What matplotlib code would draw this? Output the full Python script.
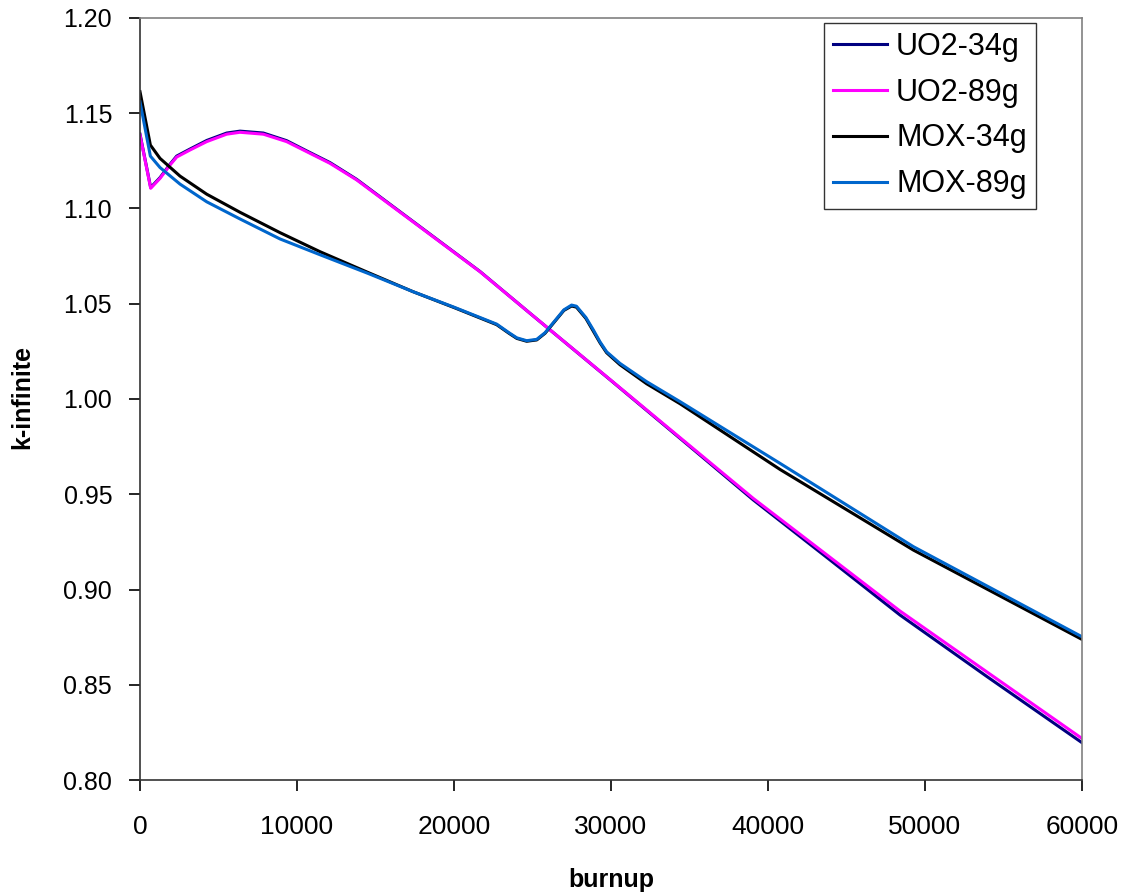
import numpy as np
import matplotlib
matplotlib.use('Agg')
import matplotlib.pyplot as plt

plt.rcParams['font.family'] = ['Liberation Sans', 'DejaVu Sans']

# values
uo2_burnup = [0, 680, 1274, 1911, 2336, 3185, 4250, 5520, 6370, 7857, 9340, 10600,
              12100, 13800, 17000, 21660, 24840, 30000, 35000, 39066, 44000, 48410,
              54000, 60000]
uo2_89g = [1.1386, 1.1106, 1.1158, 1.1228, 1.1270, 1.1307, 1.1351, 1.1390, 1.1400, 1.1390,
           1.1351, 1.1299, 1.1237, 1.1150, 1.0954, 1.0668, 1.0450, 1.0098, 0.9756, 0.9478,
           0.9166, 0.8887, 0.8564, 0.8218]
uo2_34g = [1.1390, 1.1110, 1.1162, 1.1232, 1.1275, 1.1312, 1.1357, 1.1396, 1.1406, 1.1396,
           1.1356, 1.1303, 1.1241, 1.1153, 1.0956, 1.0669, 1.0450, 1.0097, 0.9752, 0.9470,
           0.9152, 0.8866, 0.8540, 0.8196]

mox_burnup = [0, 660, 1274, 2548, 4250, 6370, 8920, 11470, 14500, 17400, 20000, 22720,
              23500, 24000, 24630, 25270, 25800, 26500, 27000, 27490, 27800, 28400, 28880,
              29300, 29720, 30570, 32270, 34400, 40770, 49260, 60000]
mox_34g = [1.1613, 1.1333, 1.1263, 1.1170, 1.1075, 1.0980, 1.0873, 1.0773, 1.0665, 1.0563,
           1.0480, 1.0390, 1.0345, 1.0318, 1.0303, 1.0310, 1.0345, 1.0415, 1.0465, 1.0488,
           1.0482, 1.0423, 1.0355, 1.0295, 1.0243, 1.0180, 1.0080, 0.9975, 0.9630, 0.9207,
           0.8738]
mox_89g = [1.1560, 1.1275, 1.1215, 1.1128, 1.1035, 1.0945, 1.0840, 1.0757, 1.0660, 1.0563,
           1.0482, 1.0393, 1.0348, 1.0321, 1.0306, 1.0313, 1.0348, 1.0418, 1.0468, 1.0493,
           1.0487, 1.0428, 1.0362, 1.0300, 1.0248, 1.0187, 1.0091, 0.9986, 0.9662, 0.9225,
           0.8752]

fig = plt.figure(figsize=(11.3, 8.94), dpi=100)
ax = fig.add_axes([0.1239, 0.1275, 0.8336, 0.8524])

ax.plot(uo2_burnup, uo2_34g, color='#000080', lw=2.2, label='UO2-34g')
ax.plot(uo2_burnup, uo2_89g, color='#ff00ff', lw=2.2, label='UO2-89g')
ax.plot(mox_burnup, mox_34g, color='black', lw=2.2, label='MOX-34g')
ax.plot(mox_burnup, mox_89g, color='#0066cc', lw=2.2, label='MOX-89g')

ax.set_xlim(0, 60000)
ax.set_ylim(0.80, 1.20)
ax.set_xticks(np.arange(0, 60001, 10000))
yt = np.arange(0.80, 1.2001, 0.05)
ax.set_yticks(yt)
ax.set_yticklabels([f'{v:.2f}' for v in yt])

for s in ['top', 'right']:
    ax.spines[s].set_color('#808080')
for s in ['left', 'bottom']:
    ax.spines[s].set_color('#333333')
for s in ax.spines.values():
    s.set_linewidth(1.2)
ax.tick_params(axis='both', direction='out', length=8, width=1.2)
ax.tick_params(axis='y', pad=12, labelsize=18)
ax.tick_params(axis='x', pad=17, labelsize=19)

fig.text(611 / 1130, 7 / 894, 'burnup', ha='center', va='baseline',
         fontsize=18, fontweight='bold')
fig.text(22 / 1130, 1 - 397 / 894, 'k-infinite', ha='center', va='center', rotation=90,
         fontsize=18, fontweight='bold')

leg = ax.legend(loc='upper right', bbox_to_anchor=(0.951, 0.994), borderaxespad=0,
                fontsize=22, fancybox=False, framealpha=1, edgecolor='#333333',
                handlelength=1.75, handletextpad=0.3, labelspacing=0.52, borderpad=0.3)
leg.get_frame().set_linewidth(1.0)

fig.savefig('out.png', dpi=100)
